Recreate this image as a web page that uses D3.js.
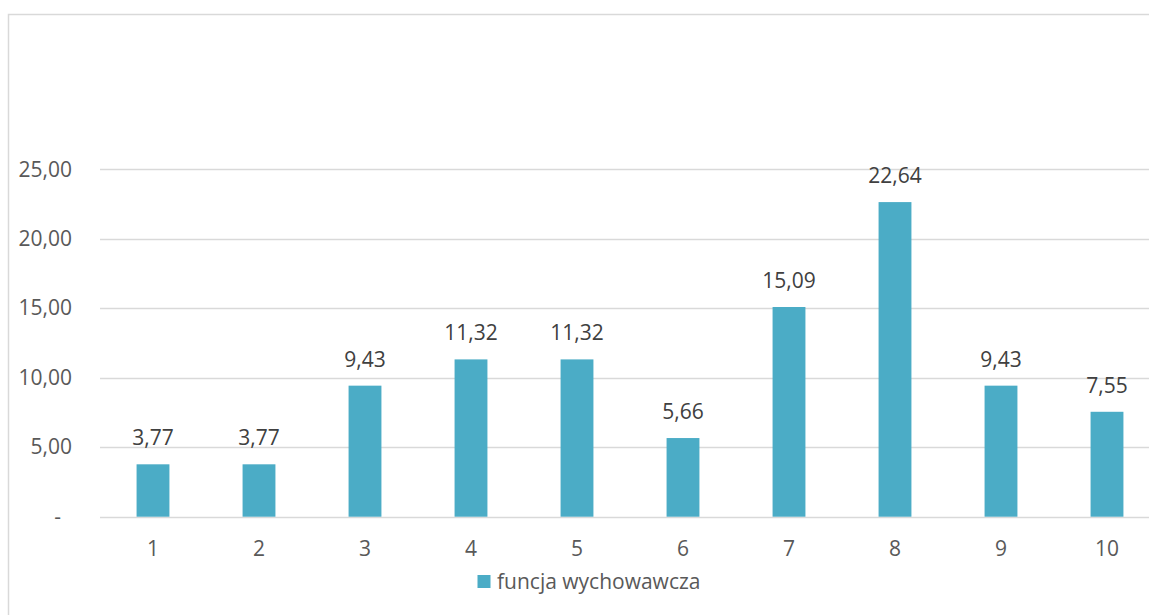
<!DOCTYPE html>
<html>
<head>
<meta charset="utf-8">
<script src="https://cdn.jsdelivr.net/npm/d3@7"></script>
<style>
  html, body { margin: 0; padding: 0; background: #fff; overflow: hidden; }
  svg { display: block; }
  text { font-family: "Open Sans", "Noto Sans", sans-serif; }
</style>
</head>
<body>
<svg id="chart" width="1149" height="615"></svg>
<script>
const categories = ["1", "2", "3", "4", "5", "6", "7", "8", "9", "10"];
const values = [3.77, 3.77, 9.43, 11.32, 11.32, 5.66, 15.09, 22.64, 9.43, 7.55];
const yTicks = [0, 5, 10, 15, 20, 25];
const seriesName = "funcja wychowawcza";

const W = 1149, H = 615;
const svg = d3.select("#chart");
const barColor = "#4BACC6";
const gridColor = "#d9d9d9";
const axisText = "#595959";
const labelText = "#404040";
const fontSize = 21;

const locale = d3.formatLocale({ decimal: ",", thousands: " ", grouping: [3], currency: ["", " zł"] });
const fmt = locale.format(".2f");
const tickFmt = v => v === 0 ? "-\u00a0\u00a0" : fmt(v);

// chart border
svg.append("rect")
  .attr("x", 8.5).attr("y", 14.5)
  .attr("width", W + 20).attr("height", H + 20)
  .attr("fill", "none").attr("stroke", gridColor).attr("stroke-width", 1.5);

const x = d3.scaleBand().domain(categories).range([100, 1160]).paddingInner(0.69).paddingOuter(0.345);
const y = d3.scaleLinear().domain([0, 25]).range([516.7, 169.3]);

// gridlines
svg.append("g").selectAll("line").data(yTicks).join("line")
  .attr("x1", 100).attr("x2", 1160)
  .attr("y1", d => Math.round(y(d)) + 0.5).attr("y2", d => Math.round(y(d)) + 0.5)
  .attr("stroke", gridColor).attr("stroke-width", 1.5);

// y axis labels
const yAxis = d3.axisLeft(y).tickValues(yTicks).tickFormat(tickFmt).tickSize(0).tickPadding(0);
const gy = svg.append("g").attr("transform", "translate(72,0)").call(yAxis);
gy.select(".domain").remove();
gy.selectAll("text").attr("font-size", fontSize).attr("fill", axisText)
  .attr("font-family", "'Open Sans', sans-serif").style("white-space", "pre");

// x axis labels
const xAxis = d3.axisBottom(x).tickSize(0).tickPadding(0);
const gx = svg.append("g").attr("transform", "translate(0,541)").call(xAxis);
gx.select(".domain").remove();
gx.selectAll("text").attr("font-size", fontSize).attr("fill", axisText)
  .attr("font-family", "'Open Sans', sans-serif");

// bars
const data = categories.map((c, i) => ({ c, v: values[i] }));
svg.append("g").selectAll("rect").data(data).join("rect")
  .attr("x", d => x(d.c)).attr("width", x.bandwidth())
  .attr("y", d => y(d.v)).attr("height", d => y(0) - y(d.v))
  .attr("fill", barColor);

// data labels
svg.append("g").selectAll("text").data(data).join("text")
  .attr("x", d => x(d.c) + x.bandwidth() / 2)
  .attr("y", d => y(d.v) - 19)
  .attr("text-anchor", "middle")
  .attr("font-size", fontSize).attr("fill", labelText)
  .text(d => fmt(d.v));

// legend
const lg = svg.append("g");
lg.append("rect").attr("x", 477.5).attr("y", 575).attr("width", 13).attr("height", 13).attr("fill", barColor);
lg.append("text").attr("x", 497).attr("y", 589).attr("font-size", fontSize).attr("fill", axisText).text(seriesName);
</script>
</body>
</html>
